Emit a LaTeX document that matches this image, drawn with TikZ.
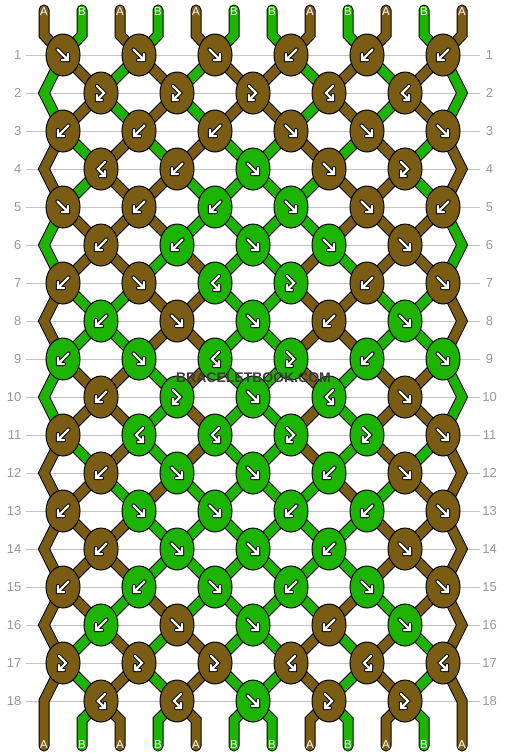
\documentclass[tikz,border=0pt]{standalone}
\usepackage{fontspec}
\setmainfont{Liberation Sans}
\usetikzlibrary{shapes.geometric}
\definecolor{N}{HTML}{7A5C14}
\definecolor{G}{HTML}{1DB400}
\definecolor{gridc}{HTML}{C4C4C4}
\definecolor{labc}{HTML}{999999}
\definecolor{wmc}{HTML}{3C3C3C}
\pgfdeclarelayer{back}
\pgfdeclarelayer{mid}
\pgfsetlayers{back,mid,main}

\newcommand\glyph[2]{%
  \draw[glo,shift={(#1)}] #2;
  \draw[gli,shift={(#1)}] #2;}
\newcommand\glyf[1]{\glyph{#1}{(-5.5,-5.5)--(5,5) (-1,5)--(5,5)--(5,-1)}}
\newcommand\glyb[1]{\glyph{#1}{(5.5,-5.5)--(-5,5) (1,5)--(-5,5)--(-5,-1)}}
\newcommand\glyfb[1]{\glyph{#1}{(-4,-7)--(3,0)--(-4,7) (-4,2)--(-4,7)--(1,7)}}
\newcommand\glybf[1]{\glyph{#1}{(4,-7)--(-3,0)--(4,7) (4,2)--(4,7)--(-1,7)}}

\newcommand\strpass[1]{%
  % top strings
  \foreach \c [count=\p] in {N,G,N,G,N,G,G,N,G,N,G,N}{
    \pgfmathtruncatemacro\ki{(\p+1)/2}
    \pgfmathsetmacro\xp{44+38*(\p-1)}
    \draw[#1=\c] (\xp,10) -- (\xp,35) -- (k-1-\ki.center);
  }
  % between rows
  \foreach \r/\st in {
    1/{G,N,G,N,G,N,N,G,N,G,N,G},
    2/{G,N,G,N,G,N,N,G,N,G,N,G},
    3/{N,G,N,G,N,G,G,N,G,N,G,N},
    4/{N,G,N,N,G,G,G,G,N,N,G,N},
    5/{G,N,N,N,G,G,G,G,N,N,N,G},
    6/{G,N,N,G,N,G,G,N,G,N,N,G},
    7/{N,G,G,N,N,G,G,N,N,G,G,N},
    8/{N,G,G,N,N,G,G,N,N,G,G,N},
    9/{G,N,N,G,N,G,G,N,G,N,N,G},
    10/{G,N,N,G,N,G,G,N,G,N,N,G},
    11/{N,G,N,G,N,G,G,N,G,N,G,N},
    12/{N,N,G,N,G,G,G,G,N,G,N,N},
    13/{N,N,N,G,G,G,G,G,G,N,N,N},
    14/{N,N,N,G,G,G,G,G,G,N,N,N},
    15/{N,N,G,N,G,G,G,G,N,G,N,N},
    16/{N,G,N,G,N,G,G,N,G,N,G,N},
    17/{N,G,N,G,N,G,G,N,G,N,G,N}}{
    \pgfmathtruncatemacro\rn{\r+1}
    \pgfmathtruncatemacro\rnn{\r+2}
    \foreach \c [count=\p] in \st {
      \ifodd\r
        \pgfmathtruncatemacro\ia{(\p+1)/2}
        \ifnum\p=1
          \ifnum\r=17
            \draw[#1=\c] (k-\r-1.center) -- (eL-\rn) -- (44,746);
          \else
            \draw[#1=\c] (k-\r-1.center) -- (eL-\rn) -- (k-\rnn-1.center);
          \fi
        \else\ifnum\p=12
          \ifnum\r=17
            \draw[#1=\c] (k-\r-6.center) -- (eR-\rn) -- (462,746);
          \else
            \draw[#1=\c] (k-\r-6.center) -- (eR-\rn) -- (k-\rnn-6.center);
          \fi
        \else
          \pgfmathtruncatemacro\ib{\p/2}
          \draw[#1=\c] (k-\r-\ia.center) -- (k-\rn-\ib.center);
        \fi\fi
      \else
        \ifnum\p>1 \ifnum\p<12
          \pgfmathtruncatemacro\ia{\p/2}
          \pgfmathtruncatemacro\ib{(\p+1)/2}
          \draw[#1=\c] (k-\r-\ia.center) -- (k-\rn-\ib.center);
        \fi\fi
      \fi
    }
  }
  % bottom strings
  \foreach \c [count=\p] in {N,G,N,G,N,G,G,N,G,N,G,N}{
    \ifnum\p>1 \ifnum\p<12
      \pgfmathtruncatemacro\ki{\p/2}
      \pgfmathsetmacro\xp{44+38*(\p-1)}
      \draw[#1=\c] (k-18-\ki.center) -- (\xp,720) -- (\xp,746);
    \fi\fi
  }
}

\begin{document}
\begin{tikzpicture}[x=1pt,y=-1pt,
  knot/.style={ellipse, draw=black, line width=1pt, minimum width=34pt,
    minimum height=42pt, inner sep=0pt},
  glo/.style={draw=black, line width=4.2pt, line cap=round, line join=miter},
  gli/.style={draw=white, line width=2.4pt, line cap=round, line join=miter},
  so/.style={draw=black, line width=11pt, line cap=round, line join=miter},
  sc/.style={draw=#1, line width=9pt, line cap=round, line join=miter},
  gridline/.style={draw=gridc, line width=1pt},
  rowlab/.style={text=labc, inner sep=0pt, font=\fontsize{13}{13}\selectfont},
  slabel/.style={text=white, inner sep=0pt, font=\fontsize{11.5}{11.5}\selectfont},
  wm/.style={inner sep=0pt, font=\fontsize{14}{14}\selectfont\bfseries}]

\useasboundingbox (0,0) rectangle (506,756);
\begin{pgfonlayer}{back}
  \fill[white] (0,0) rectangle (506,756);
\end{pgfonlayer}

% row labels and grid lines
\foreach \r in {1,...,18}{
  \pgfmathsetmacro\yy{55+38*(\r-1)}
  \node[rowlab, anchor=east] (rl-\r) at (21.5,\yy) {\r};
  \node[rowlab] (rr-\r) at (489.5,\yy) {\r};
  \begin{pgfonlayer}{back}
    \draw[gridline] (26,\yy) -- (480,\yy);
  \end{pgfonlayer}
}

% edge bend points
\foreach \r in {2,4,...,18}{
  \pgfmathsetmacro\yy{55+38*(\r-1)}
  \coordinate (eL-\r) at (44,\yy);
  \coordinate (eR-\r) at (462,\yy);
}

% knots
\foreach \r/\lst in {
  1/{f/N,f/N,f/N,b/N,b/N,b/N},
  2/{fb/N,fb/N,fb/N,bf/N,bf/N},
  3/{b/N,b/N,b/N,f/N,f/N,f/N},
  4/{bf/N,b/N,f/G,f/N,fb/N},
  5/{f/N,b/N,b/G,f/G,f/N,b/N},
  6/{b/N,b/G,f/G,f/G,f/N},
  7/{b/N,f/N,bf/G,fb/G,b/N,f/N},
  8/{b/G,f/N,f/G,b/N,f/G},
  9/{b/G,f/G,bf/G,fb/G,b/G,f/G},
  10/{b/N,fb/G,f/G,bf/G,f/N},
  11/{b/N,bf/G,bf/G,fb/G,fb/G,f/N},
  12/{b/N,f/G,f/G,b/G,f/N},
  13/{b/N,f/G,f/G,b/G,b/G,f/N},
  14/{b/N,f/G,f/G,b/G,f/N},
  15/{b/N,b/G,f/G,b/G,f/G,f/N},
  16/{b/G,f/N,f/G,b/N,f/G},
  17/{fb/N,fb/N,fb/N,bf/N,bf/N,bf/N},
  18/{bf/N,bf/N,f/G,fb/N,fb/N}}{
  \pgfmathsetmacro\yy{55+38*(\r-1)}
  \ifodd\r \def\xo{63}\else \def\xo{101}\fi
  \foreach \t/\c [count=\i] in \lst {
    \pgfmathsetmacro\xx{\xo+76*(\i-1)}
    \node[knot, fill=\c] (k-\r-\i) at (\xx,\yy) {};
    \csname gly\t\endcsname{k-\r-\i}
  }
}

% strings
\begin{pgfonlayer}{mid}
  \strpass{so}
  \strpass{sc}
\end{pgfonlayer}

% string labels
\foreach \l/\m [count=\p] in {A/A,B/B,A/A,B/B,A/A,B/B,B/B,A/A,B/B,A/A,B/B,A/A}{
  \pgfmathsetmacro\xp{44+38*(\p-1)}
  \node[slabel] (lt-\p) at (\xp,11.5) {\l};
  \node[slabel] (lb-\p) at (\xp,744.3) {\m};
}

% watermark
\node[wm, text=wmc] (wm) at (253.5,377.5) {BRACELETBOOK.COM};
\end{tikzpicture}
\end{document}
